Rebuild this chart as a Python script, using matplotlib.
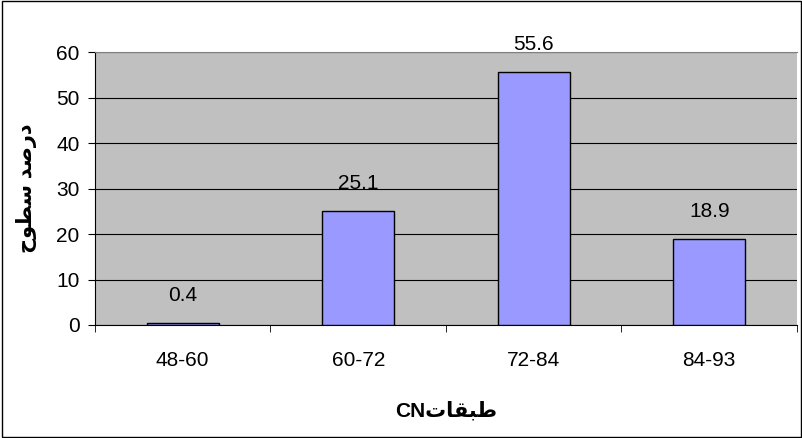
import matplotlib.pyplot as plt
from matplotlib.patches import Rectangle

# CN classes vs. percent of area
classes = ["48-60", "60-72", "72-84", "84-93"]
percent = [0.4, 25.1, 55.6, 18.9]

# Arabic labels in presentation forms, visual order (matplotlib does no shaping)
ylabel = "\uFEA1\uFEEE\uFEC4\uFEB3 \uFEAA\uFEBB\uFEAD\uFEA9"   # درصد سطوح
xlabel = "CN\uFE95\uFE8E\uFED8\uFE92\uFEC3"                     # طبقاتCN

plt.rcParams["font.family"] = ["Liberation Sans", "DejaVu Sans"]

fig = plt.figure(figsize=(8.03, 4.38), dpi=100)
ax = fig.add_axes([0.1183, 0.258, 0.8742, 0.623])
ax.set_facecolor("#C0C0C0")

x = range(len(classes))
ax.bar(x, percent, width=0.41, color="#9999FF", edgecolor="black", linewidth=1, zorder=3)
for xi, v in zip(x, percent):
    ax.annotate(f"{v}", (xi, v), xytext=(0, 13), textcoords="offset points",
                ha="center", va="bottom", fontsize=15)

ax.set_xlim(-0.5, len(classes) - 0.5)
ax.set_ylim(0, 60)
ax.set_yticks(range(0, 61, 10))
ax.yaxis.grid(True, color="black", linewidth=0.8, zorder=0)
ax.set_axisbelow(True)

ax.set_xticks(x)
ax.set_xticklabels(classes, fontsize=15)
ax.set_xticks([i - 0.5 for i in range(len(classes) + 1)], minor=True)
ax.tick_params(axis="x", which="major", length=0, pad=19)
ax.tick_params(axis="x", which="minor", length=5, direction="out", color="black")
ax.tick_params(axis="y", labelsize=15, length=5, direction="out", pad=6)

# plot area top edge is a grey border
ax.spines["top"].set_color("#808080")
ax.spines["right"].set_visible(False)
ax.spines["left"].set_color("black")
ax.spines["bottom"].set_color("black")

ax.set_ylabel(ylabel, fontsize=15, fontweight="bold", labelpad=14)
ax.set_xlabel(xlabel, fontsize=15, fontweight="bold", labelpad=22)

fig.patches.append(Rectangle((0.002, 0.002), 0.996, 0.996, transform=fig.transFigure,
                             fill=False, edgecolor="black", linewidth=1))

fig.savefig("out.png", dpi=100)
